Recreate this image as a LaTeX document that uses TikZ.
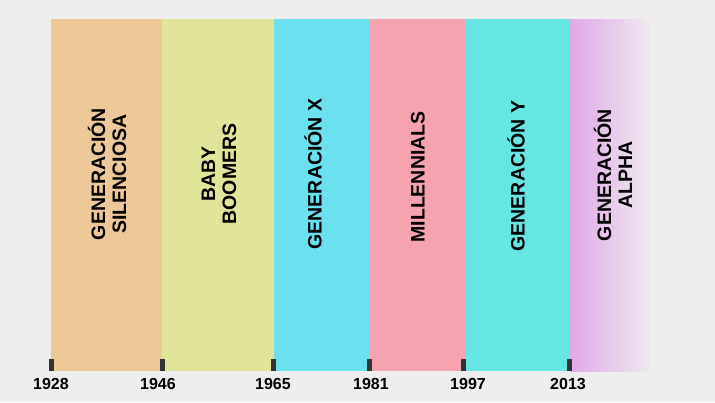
\documentclass[tikz,border=0pt]{standalone}
\usepackage{fontspec}
\setmainfont{Liberation Sans}
\usepackage{tikz}

\definecolor{bg}{HTML}{EEEEEE}
\definecolor{silentc}{HTML}{EDC899}
\definecolor{boomc}{HTML}{E0E59A}
\definecolor{genxc}{HTML}{6BE1F0}
\definecolor{millc}{HTML}{F5A3AF}
\definecolor{genyc}{HTML}{65E6E2}
\definecolor{alphac}{HTML}{E1A8E9}
\definecolor{fadec}{HTML}{EEEAEE}
\definecolor{tickc}{HTML}{333333}

\begin{document}
\begin{tikzpicture}[x=1pt, y=-1pt,
  lbl/.style={rotate=90, align=center, inner sep=0pt,
    font=\bfseries\fontsize{19.5}{21}\selectfont},
  year/.style={inner sep=0pt, font=\bfseries\fontsize{16}{16}\selectfont},
  tick/.style={fill=tickc}]
  \fill[bg] (0,0) rectangle (715,402);
  \useasboundingbox (0,0) rectangle (715,402);

  \fill[silentc] (51,19) rectangle (162,371);
  \fill[boomc] (162,19) rectangle (274,371);
  \fill[genxc] (274,19) rectangle (370,371);
  \fill[millc] (370,19) rectangle (465,371);
  \fill[genyc] (465,19) rectangle (570,371);
  \shade[left color=alphac, right color=fadec] (570,19) rectangle (650,371);

  \node[lbl] (silent) at (107,174) {GENERACIÓN\\SILENCIOSA};
  \node[lbl] (boomers) at (219,174) {BABY\\BOOMERS};
  \node[lbl] (genx) at (313,174) {GENERACIÓN X};
  \node[lbl] (mill) at (418,177) {MILLENNIALS};
  \node[lbl] (geny) at (516,176) {GENERACIÓN Y};
  \node[lbl] (alpha) at (613,175) {GENERACIÓN\\ALPHA};

  \fill[tick] (48.5,359) rectangle (53.5,371);
  \fill[tick] (159.5,359) rectangle (164.5,371);
  \fill[tick] (271,359) rectangle (276,371);
  \fill[tick] (367,359) rectangle (372,371);
  \fill[tick] (461,359) rectangle (466,371);
  \fill[tick] (567,359) rectangle (572,371);

  \node[year] (y1928) at (51,384) {1928};
  \node[year] (y1946) at (158,384) {1946};
  \node[year] (y1965) at (273,384) {1965};
  \node[year] (y1981) at (371,384) {1981};
  \node[year] (y1997) at (468,384) {1997};
  \node[year] (y2013) at (568,384) {2013};
\end{tikzpicture}
\end{document}
